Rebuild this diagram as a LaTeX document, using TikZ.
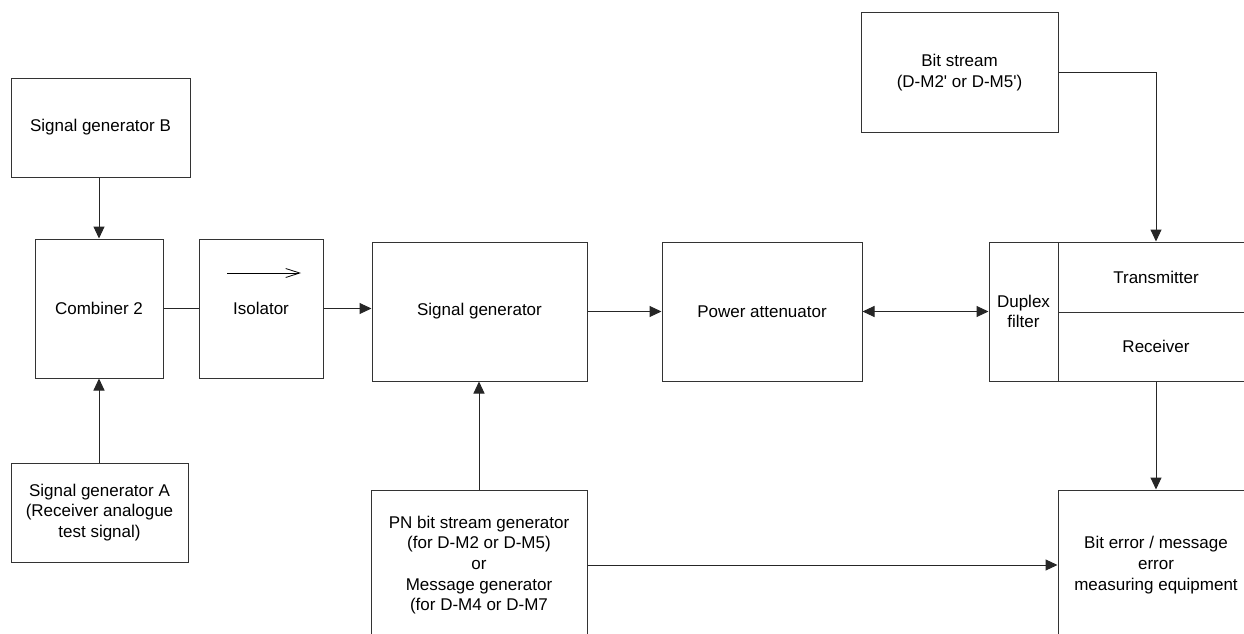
\documentclass[tikz,border=0pt]{standalone}
\usepackage{fontspec}
\setmainfont{Liberation Sans}[Ligatures=TeXOff]
\usetikzlibrary{arrows.meta,positioning}

\begin{document}
\begin{tikzpicture}[
  x=1pt, y=-1pt,
  box/.style     ={draw=black!80, line width=1pt, align=center, inner sep=2pt,
                   font=\fontsize{17}{20.7}\selectfont},
  arr/.style     ={-{Triangle[length=12pt,width=11pt]}, line width=1pt, draw=black!85},
  dblarr/.style  ={{Triangle[length=12pt,width=11pt]}-{Triangle[length=12pt,width=11pt]},
                   line width=1pt, draw=black!85},
  wire/.style    ={line width=1pt, draw=black!85}
]
\useasboundingbox (0,0) rectangle (1244,634);
\clip (0,0) rectangle (1244,634);

%%% ---- LEFT: signal sources and combiner ------------------------------
\node[box, minimum width=179pt, minimum height=99pt]  (sigb) at (100.5,127.5) {Signal generator B};
\node[box, minimum width=128pt, minimum height=139pt] (comb) at (99,308.5)    {Combiner 2};
\node[box, minimum width=124pt, minimum height=139pt] (iso)  at (261,308.5)   {Isolator};
\node[box, minimum width=177pt, minimum height=99pt]  (siga) at (99.5,512.5)  {Signal generator A\\(Receiver analogue\\test signal)};

% isolator direction mark
\draw[line width=0.8pt, -{Straight Barb[length=14pt,width=9pt]}]
  ([shift={(-34,-35.5)}]iso.center) -- ([shift={(40,-35.5)}]iso.center);

%%% ---- MIDDLE: signal generator, attenuator, PN source -----------------
\node[box, minimum width=215pt, minimum height=139pt] (sig) at (479.5,311.5) {Signal generator};
\node[box, minimum width=200pt, minimum height=139pt] (pwr) at (762,311.5)   {Power attenuator};
\node[box, minimum width=216pt, minimum height=150pt] (pn)  at (479,565)     {PN bit stream generator\\(for D-M2 or D-M5)\\or\\Message generator\\(for D-M4 or D-M7};

%%% ---- RIGHT: equipment under test -------------------------------------
\node[box, minimum width=197pt, minimum height=119pt] (bits) at (959.5,72.5) {Bit stream\\(D-M2' or D-M5')};
\node[box, minimum width=69pt,  minimum height=139pt] (dup)  at (1023.5,311.5) {Duplex\\filter};
\node[box, minimum width=196pt, minimum height=70pt]  (tx)   at (1156,277)   {Transmitter};
\node[box, minimum width=196pt, minimum height=69pt]  (rx)   at (1156,346.5) {Receiver};
\node[box, minimum width=196pt, minimum height=150pt] (err)  at (1156,565)   {Bit error / message\\error\\measuring equipment};

%%% ---- connectors ------------------------------------------------------
\draw[arr]    (comb.north |- sigb.south) -- (comb.north);
\draw[arr]    (comb.south |- siga.north) -- (comb.south);
\draw[wire]   (comb.east)  -- (iso.west);
\draw[arr]    (iso.east)   -- (iso.east -| sig.west);
\draw[arr]    (sig.east)   -- (pwr.west);
\draw[arr]    (pn.north)   -- (pn.north |- sig.south);
\draw[dblarr] (pwr.east)   -- (dup.west);
\draw[arr]    (bits.east)  -| (tx.north);
\draw[arr]    (rx.south)   -- (err.north);
\draw[arr]    (pn.east)    -- (err.west);

\end{tikzpicture}
\end{document}
